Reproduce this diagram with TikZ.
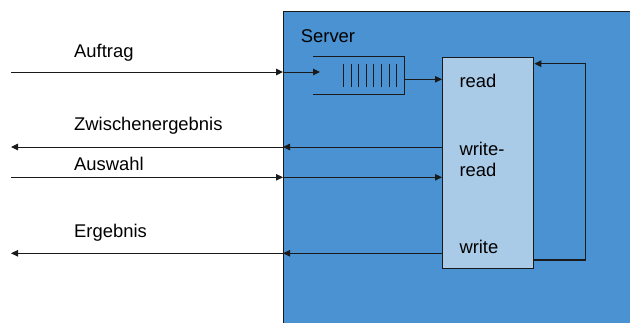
\documentclass[tikz,border=0pt]{standalone}
\usepackage{fontspec}
\setmainfont{Liberation Sans}
\usetikzlibrary{arrows.meta}
\definecolor{serverblue}{HTML}{4A92D2}
\definecolor{boxblue}{HTML}{A9CBE8}
\definecolor{linedark}{HTML}{1A1A1A}
\tikzset{
  lbl/.style={anchor=base west, inner sep=0pt, font=\fontsize{18.4}{21.5}\selectfont},
  arr/.style={draw=linedark, line width=1pt, -{Triangle[length=7pt,width=6.5pt]}},
  procbox/.style={draw=linedark, fill=boxblue, line width=1.4pt, minimum width=91pt, minimum height=211pt, inner sep=0pt, anchor=north west},
}
\begin{document}
\begin{tikzpicture}[x=1pt,y=-1pt]
\useasboundingbox (0,0) rectangle (630,322);
% server area
\fill[serverblue] (283,11) rectangle (632,324);
\draw[linedark, line width=1pt] (283,324) -- (283,11) -- (632,11);
\node[lbl] (server) at (300.7,42.3) {Server};
% queue
\draw[linedark, line width=1pt] (313,56) -- (404,56) -- (404,94) -- (313,94);
\foreach \i in {0,...,7} {\draw[linedark, line width=1pt] (343.5+\i*7.6,64) -- (343.5+\i*7.6,87);}
\coordinate (qin) at (320,72);
\coordinate (qout) at (404,79.3);
% process box
\node[procbox] (proc) at (442,57) {};
\node[lbl] (lread) at (459.3,87.3) {read};
\node[lbl] (lwr1) at (459.3,155.3) {write-};
\node[lbl] (lwr2) at (459.3,176.8) {read};
\node[lbl] (lwrite) at (459.3,253.3) {write};
% boundary points
\coordinate (b1) at (283,72);
\coordinate (b2) at (283,147);
\coordinate (b3) at (283,177.3);
\coordinate (b4) at (283,253.3);
\coordinate (l1) at (11,72);
\coordinate (l2) at (11,147);
\coordinate (l3) at (11,177.3);
\coordinate (l4) at (11,253.3);
% labels
\node[lbl] (auftrag) at (74,57.3) {Auftrag};
\node[lbl] (zw) at (74,130.7) {Zwischenergebnis};
\node[lbl] (ausw) at (74,170.7) {Auswahl};
\node[lbl] (erg) at (74,237) {Ergebnis};
% arrows
\draw[arr] (l1) -- (b1);
\draw[arr] (b1) -- (qin);
\draw[arr] (qout) -- (proc.west |- qout);
\draw[arr] (proc.west |- b2) -- (b2);
\draw[arr] (b2) -- (l2);
\draw[arr] (l3) -- (b3);
\draw[arr] (b3) -- (proc.west |- b3);
\draw[arr] (proc.west |- b4) -- (b4);
\draw[arr] (b4) -- (l4);
% feedback loop
\coordinate (fb1) at (585.7,260);
\coordinate (fb2) at (585.7,63.7);
\draw[arr, line width=1.1pt] (proc.east |- fb1) -- (fb1) -- (fb2) -- (proc.east |- fb2);
\end{tikzpicture}
\end{document}
